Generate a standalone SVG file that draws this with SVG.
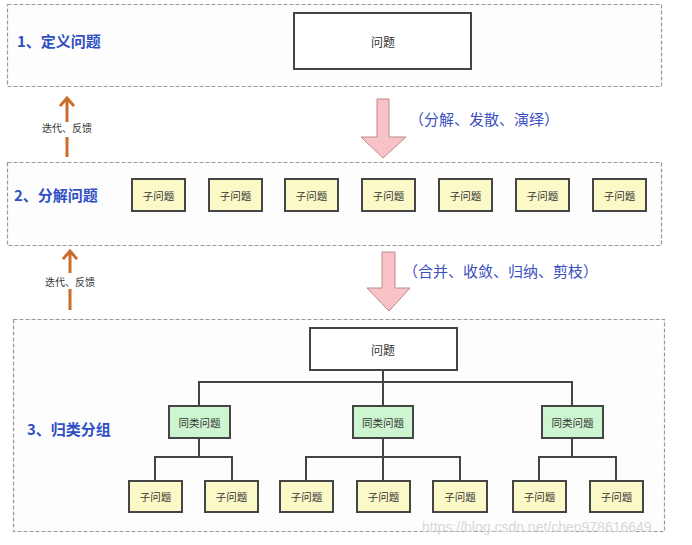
<svg xmlns="http://www.w3.org/2000/svg" width="692" height="545" viewBox="0 0 692 545">
<defs>
<style>
.stage{fill:#fdfdfd;stroke:#9a9a9a;stroke-width:1.2;stroke-dasharray:4 2}
.title{font-family:"Noto Sans CJK SC","Liberation Sans",sans-serif;font-size:15px;font-weight:bold;fill:#2f4fc4}
.note{font-family:"Noto Sans CJK SC","Liberation Sans",sans-serif;font-size:15px;fill:#3a4fc0}
.fb{font-family:"Noto Sans CJK SC","Liberation Sans",sans-serif;font-size:10px;fill:#333}
.prob{fill:#ffffff;stroke:#444;stroke-width:2}
.sub{fill:#fcf9c9;stroke:#454545;stroke-width:2}
.grp{fill:#cdf5cf;stroke:#454545;stroke-width:2}
.t{font-family:"Noto Sans CJK SC","Liberation Sans",sans-serif;font-size:10.5px;fill:#333;text-anchor:middle;dominant-baseline:central}
.tb{font-family:"Noto Sans CJK SC","Liberation Sans",sans-serif;font-size:12px;fill:#333;text-anchor:middle;dominant-baseline:central}
.big{fill:#f9c2c6;stroke:#b88a8c;stroke-width:1}
.org{stroke:#c96d2c;stroke-width:3;fill:none}
.orgh{fill:none;stroke:#c96d2c;stroke-width:3;stroke-linecap:square}
.tree{stroke:#444;stroke-width:2;fill:none}
.wm{font-family:"Liberation Sans",Arial,sans-serif;font-size:14px;fill:#d8d8d8}
</style>
</defs>

<g id="stage1">
<rect class="stage" x="7.5" y="4.5" width="654" height="82"/>
<text class="title" x="17" y="47">1、定义问题</text>
</g>
<g id="stage2">
<rect class="stage" x="7.5" y="162.5" width="654" height="83"/>
<text class="title" x="14" y="201">2、分解问题</text>
</g>
<g id="stage3">
<rect class="stage" x="13.5" y="319.5" width="651" height="212"/>
<text class="title" x="27" y="435">3、归类分组</text>
</g>

<g id="connectors">
<polygon class="big" points="377,99 389,99 389,137 406,137 383,158 361,137 377,137"/>
<polygon class="big" points="382,252 395,252 395,288 410,288 389,311 367,288 382,288"/>
<line class="org" x1="67" y1="99" x2="67" y2="122"/>
<polyline class="orgh" points="61,105 67,98 73,105"/>
<line class="org" x1="67" y1="137" x2="67" y2="157"/>
<line class="org" x1="70" y1="252" x2="70" y2="273"/>
<polyline class="orgh" points="64,258 70,251 76,258"/>
<line class="org" x1="70" y1="289" x2="70" y2="310"/>
<path class="tree" d="M383,370 V406 M199,406 V382 H572 V406"/>
<path class="tree" d="M199,438 V457 M155,481 V457 H232 V481"/>
<path class="tree" d="M383,438 V481 M306,481 V457 H460 V481"/>
<path class="tree" d="M572,438 V457 M539,481 V457 H616 V481"/>
</g>

<g id="notes">
<text class="note" x="409" y="125">（分解、发散、演绎）</text>
<text class="note" x="403" y="277">（合并、收敛、归纳、剪枝）</text>
<text class="fb" x="42" y="132">迭代、反馈</text>
<text class="fb" x="45" y="286">迭代、反馈</text>
</g>

<g id="problem1"><rect class="prob" x="294" y="13" width="177" height="56"/><text class="tb" x="383" y="41">问题</text></g>

<g id="s2-1"><rect class="sub" x="132" y="179" width="53" height="32"/><text class="t" x="158.5" y="195">子问题</text></g>
<g id="s2-2"><rect class="sub" x="209" y="179" width="53" height="32"/><text class="t" x="235.5" y="195">子问题</text></g>
<g id="s2-3"><rect class="sub" x="285" y="179" width="53" height="32"/><text class="t" x="311.5" y="195">子问题</text></g>
<g id="s2-4"><rect class="sub" x="362" y="179" width="53" height="32"/><text class="t" x="388.5" y="195">子问题</text></g>
<g id="s2-5"><rect class="sub" x="439" y="179" width="53" height="32"/><text class="t" x="465.5" y="195">子问题</text></g>
<g id="s2-6"><rect class="sub" x="516" y="179" width="53" height="32"/><text class="t" x="542.5" y="195">子问题</text></g>
<g id="s2-7"><rect class="sub" x="593" y="179" width="53" height="32"/><text class="t" x="619.5" y="195">子问题</text></g>

<g id="problem3"><rect class="prob" x="310" y="328" width="147" height="42"/><text class="tb" x="383" y="349">问题</text></g>

<g id="g1"><rect class="grp" x="169" y="406" width="61" height="32"/><text class="t" x="199.5" y="422">同类问题</text></g>
<g id="g2"><rect class="grp" x="353" y="406" width="60" height="32"/><text class="t" x="383" y="422">同类问题</text></g>
<g id="g3"><rect class="grp" x="542" y="406" width="61" height="32"/><text class="t" x="572.5" y="422">同类问题</text></g>

<g id="c1"><rect class="sub" x="129" y="481" width="53" height="31"/><text class="t" x="155.5" y="496.5">子问题</text></g>
<g id="c2"><rect class="sub" x="205" y="481" width="53" height="31"/><text class="t" x="231.5" y="496.5">子问题</text></g>
<g id="c3"><rect class="sub" x="280" y="481" width="53" height="31"/><text class="t" x="306.5" y="496.5">子问题</text></g>
<g id="c4"><rect class="sub" x="357" y="481" width="53" height="31"/><text class="t" x="383.5" y="496.5">子问题</text></g>
<g id="c5"><rect class="sub" x="433" y="481" width="54" height="31"/><text class="t" x="460" y="496.5">子问题</text></g>
<g id="c6"><rect class="sub" x="513" y="481" width="53" height="31"/><text class="t" x="539.5" y="496.5">子问题</text></g>
<g id="c7"><rect class="sub" x="590" y="481" width="53" height="31"/><text class="t" x="616.5" y="496.5">子问题</text></g>

<text class="wm" x="422" y="532">https://blog.csdn.net/chen978616649</text>
</svg>
